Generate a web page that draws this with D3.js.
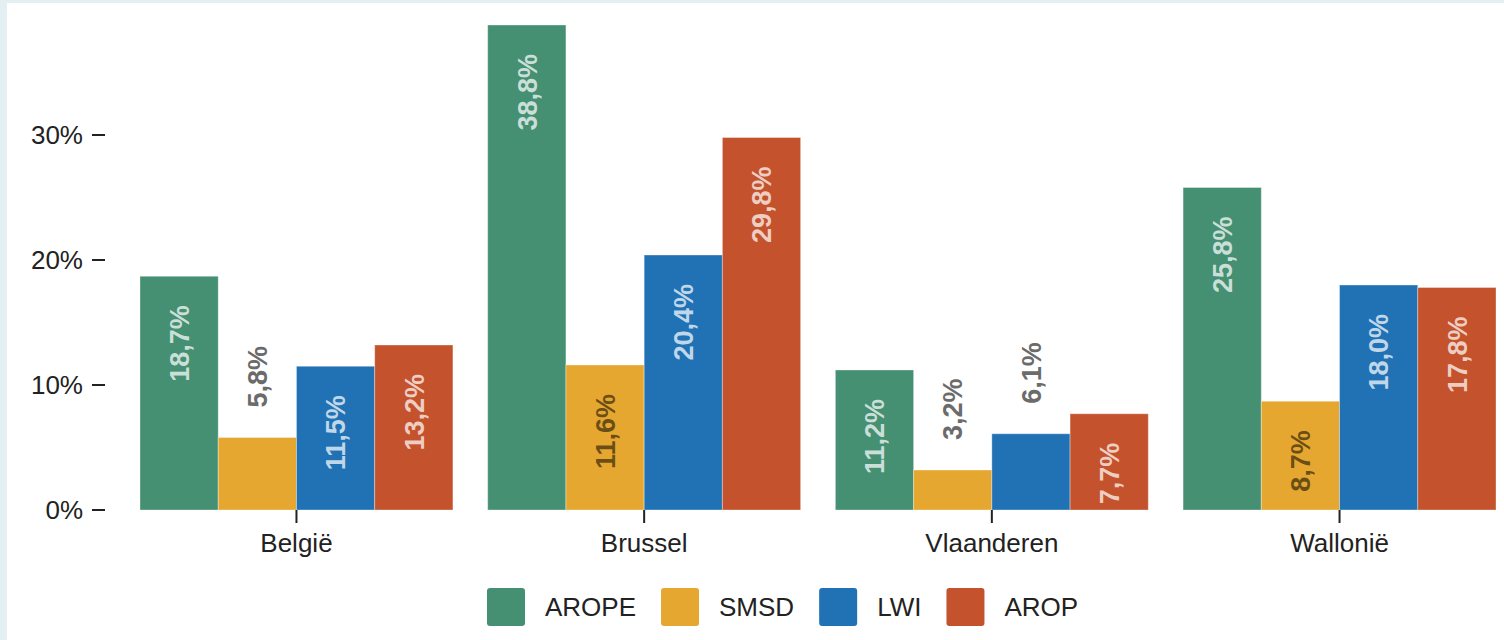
<!DOCTYPE html>
<html>
<head>
<meta charset="utf-8">
<script src="https://cdn.jsdelivr.net/npm/d3@7"></script>
<style>
  html, body { margin: 0; padding: 0; background: #e4eff3; }
  #chart { position: absolute; left: 7px; top: 3px; }
  text { font-family: "Liberation Sans", Arial, sans-serif; }
</style>
</head>
<body>
<div id="chart"></div>
<script>
// data
var categories = ["België", "Brussel", "Vlaanderen", "Wallonië"];
var seriesNames = ["AROPE", "SMSD", "LWI", "AROP"];
var arope = [18.7, 38.8, 11.2, 25.8];
var smsd = [5.8, 11.6, 3.2, 8.7];
var lwi = [11.5, 20.4, 6.1, 18.0];
var arop = [13.2, 29.8, 7.7, 17.8];
var yTicks = [0, 10, 20, 30];

var colors = ["#458f73", "#e5a72f", "#2172b4", "#c4522c"];
var seriesValues = [arope, smsd, lwi, arop];

var svgWidth = 1497, svgHeight = 637;
// offsets because svg sits at (7,3) in page
var ox = 7, oy = 3;

var svg = d3.select("#chart").append("svg")
  .attr("width", svgWidth)
  .attr("height", svgHeight)
  .style("background", "#fff");

var g = svg.append("g").attr("transform", `translate(${-ox}, ${-oy})`);

var x0 = d3.scaleBand()
  .domain(categories)
  .range([140, 1496])
  .paddingInner(0.1)
  .paddingOuter(0);

var x1 = d3.scaleBand()
  .domain(seriesNames)
  .range([0, x0.bandwidth()])
  .padding(0);

var y = d3.scaleLinear()
  .domain([0, 40])
  .range([510, 10]);

var fmt = function (v) { return d3.format(".1f")(v).replace(".", ",") + "%"; };

// y axis: labels + short dash ticks
var yAxis = g.append("g").attr("class", "y-axis");
yAxis.selectAll("line")
  .data(yTicks)
  .enter().append("line")
  .attr("x1", 92).attr("x2", 105)
  .attr("y1", d => y(d)).attr("y2", d => y(d))
  .attr("stroke", "#222").attr("stroke-width", 2);
yAxis.selectAll("text")
  .data(yTicks)
  .enter().append("text")
  .attr("x", 83)
  .attr("y", d => y(d))
  .attr("dy", "0.36em")
  .attr("text-anchor", "end")
  .attr("font-size", 26)
  .attr("fill", "#222")
  .text(d => d + "%");

// bars
var rows = categories.map(function (c, i) {
  return { cat: c, vals: seriesNames.map(function (s, j) { return { s: s, j: j, v: seriesValues[j][i] }; }) };
});

var groups = g.append("g").selectAll("g")
  .data(rows)
  .enter().append("g")
  .attr("transform", d => `translate(${x0(d.cat)}, 0)`);

groups.selectAll("rect")
  .data(d => d.vals)
  .enter().append("rect")
  .attr("x", d => x1(d.s))
  .attr("y", d => y(d.v))
  .attr("width", x1.bandwidth())
  .attr("height", d => y(0) - y(d.v))
  .attr("fill", d => colors[d.j])
  .attr("stroke", "rgba(255,255,255,0.35)")
  .attr("stroke-width", 1);

// rotated value labels
groups.selectAll("text")
  .data(d => d.vals)
  .enter().append("text")
  .attr("transform", function (d) {
    var cx = x1(d.s) + x1.bandwidth() / 2;
    var inside = d.v >= 7;
    var yy = inside ? y(d.v) + 29 : y(d.v) - 30;
    return `translate(${cx}, ${yy}) rotate(-90)`;
  })
  .attr("text-anchor", d => d.v >= 7 ? "end" : "start")
  .attr("dy", "0.36em")
  .attr("font-size", 27)
  .attr("font-weight", "bold")
  .attr("fill", function (d) {
    if (d.v < 7) return "#6b6b6b";
    if (d.s === "SMSD") return "rgba(0,0,0,0.55)";
    return "rgba(255,255,255,0.72)";
  })
  .text(d => fmt(d.v));

// x axis: ticks at group centres, no domain line
var xAxis = g.append("g");
xAxis.selectAll("line")
  .data(categories)
  .enter().append("line")
  .attr("x1", d => x0(d) + x0.bandwidth() / 2)
  .attr("x2", d => x0(d) + x0.bandwidth() / 2)
  .attr("y1", 510).attr("y2", 523)
  .attr("stroke", "#222").attr("stroke-width", 2);
xAxis.selectAll("text")
  .data(categories)
  .enter().append("text")
  .attr("x", d => x0(d) + x0.bandwidth() / 2)
  .attr("y", 552)
  .attr("text-anchor", "middle")
  .attr("font-size", 26)
  .attr("fill", "#222")
  .text(d => d);

// legend
var legend = g.append("g");
var lx = 487;
seriesNames.forEach(function (s, i) {
  legend.append("rect")
    .attr("x", lx).attr("y", 588)
    .attr("width", 38).attr("height", 38)
    .attr("rx", 3)
    .attr("fill", colors[i]);
  var t = legend.append("text")
    .attr("x", lx + 58)
    .attr("y", 607)
    .attr("dy", "0.36em")
    .attr("font-size", 26)
    .attr("fill", "#222")
    .text(s);
  lx = lx + 58 + t.node().getComputedTextLength() + 25;
});
</script>
</body>
</html>
